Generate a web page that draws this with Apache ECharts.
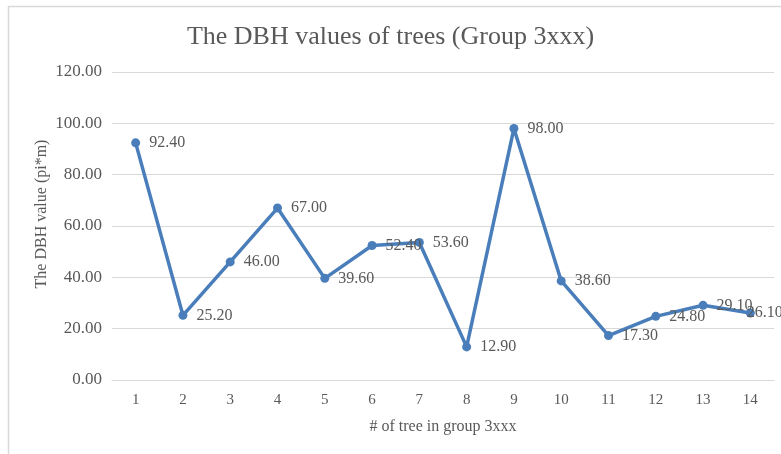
<!DOCTYPE html>
<html>
<head>
<meta charset="utf-8">
<script src="https://cdn.jsdelivr.net/npm/echarts@6/dist/echarts.min.js"></script>
<style>
  html, body { margin: 0; padding: 0; background: #fff; }
  #chart { width: 781px; height: 454px; }
</style>
</head>
<body>
<div id="chart"></div>
<script>
// Tree numbers within group 3xxx
const treeNumbers = ['1', '2', '3', '4', '5', '6', '7', '8', '9', '10', '11', '12', '13', '14'];
// DBH value of each tree (pi*m)
const dbhValues = [92.4, 25.2, 46.0, 67.0, 39.6, 52.4, 53.6, 12.9, 98.0, 38.6, 17.3, 24.8, 29.1, 26.1];

const FONT = '"Liberation Serif", "DejaVu Serif", serif';
const TEXT = '#595959';

// The last label sits closer to its point so it stays near the right edge
const seriesData = dbhValues.map((v, i) =>
  i === dbhValues.length - 1 ? { value: v, label: { offset: [-17, 0] } } : v
);

const chart = echarts.init(document.getElementById('chart'));
chart.setOption({
  animation: false,
  backgroundColor: '#fff',
  graphic: [{
    type: 'polyline',
    shape: { points: [[8.5, 454], [8.5, 6.5], [781, 6.5]] },
    style: { stroke: '#d9d9d9', lineWidth: 1.5, fill: null },
    silent: true
  }],
  title: {
    text: 'The DBH values of trees (Group 3xxx)',
    left: 'center',
    top: 19,
    textStyle: { fontFamily: FONT, fontSize: 26, fontWeight: 'normal', color: TEXT }
  },
  grid: { left: 112, right: 7, top: 72, bottom: 74 },
  xAxis: {
    type: 'category',
    data: treeNumbers,
    boundaryGap: true,
    name: '# of tree in group 3xxx',
    nameLocation: 'middle',
    nameGap: 39,
    nameMoveOverlap: false,
    nameTextStyle: { fontFamily: FONT, fontSize: 16, color: TEXT },
    axisLine: { lineStyle: { color: '#d9d9d9', width: 1 } },
    axisTick: { show: false },
    axisLabel: { fontFamily: FONT, fontSize: 15, color: TEXT, margin: 13 }
  },
  yAxis: {
    type: 'value',
    min: 0,
    max: 120,
    interval: 20,
    name: 'The DBH value (pi*m)',
    nameLocation: 'middle',
    nameGap: 62,
    nameMoveOverlap: false,
    nameTextStyle: { fontFamily: FONT, fontSize: 16, color: TEXT, padding: [0, 0, 0, 24] },
    axisLine: { show: false },
    axisTick: { show: false },
    axisLabel: {
      fontFamily: FONT, fontSize: 17, color: TEXT, margin: 10,
      formatter: v => v.toFixed(2)
    },
    splitLine: { lineStyle: { color: '#d9d9d9', width: 1 } }
  },
  series: [{
    type: 'line',
    data: seriesData,
    symbol: 'circle',
    symbolSize: 9,
    lineStyle: { color: '#4a7ebb', width: 3.5 },
    itemStyle: { color: '#4a7ebb' },
    label: {
      show: true,
      position: 'right',
      distance: 9,
      fontFamily: FONT,
      fontSize: 16,
      color: TEXT,
      formatter: p => p.value.toFixed(2)
    }
  }]
});
</script>
</body>
</html>
